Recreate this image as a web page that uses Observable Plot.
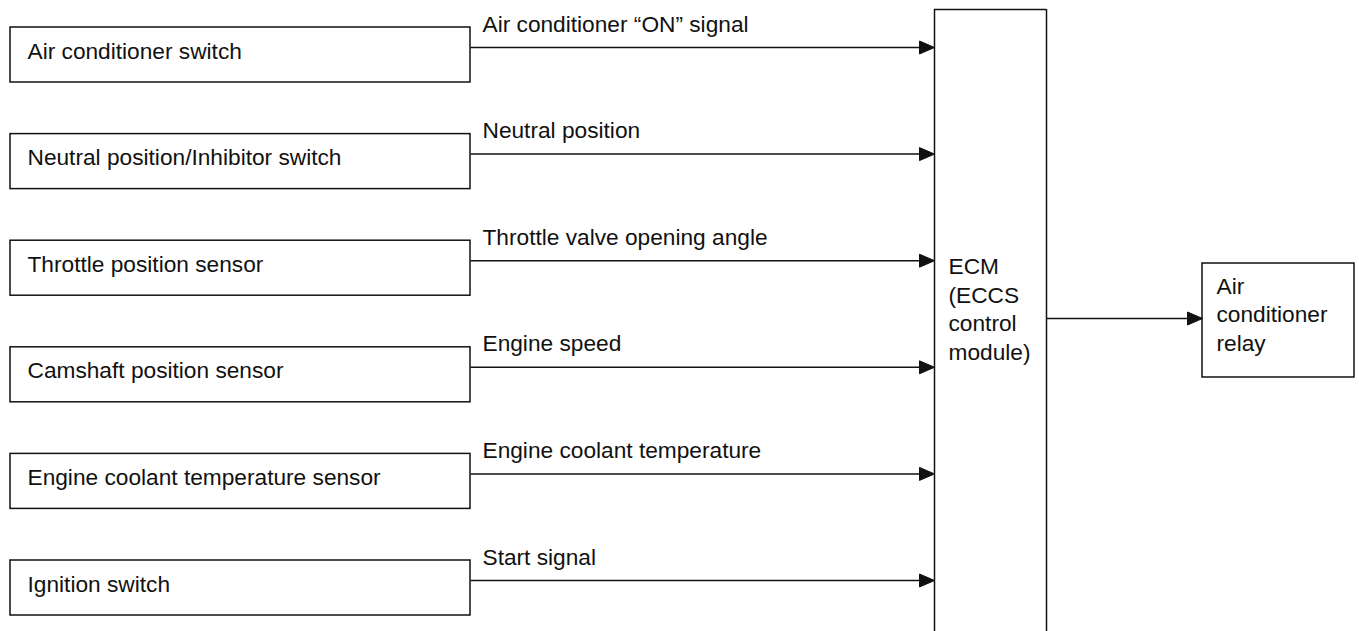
<!DOCTYPE html>
<html>
<head>
<meta charset="utf-8">
<script src="https://cdn.jsdelivr.net/npm/d3@7"></script>
<script src="https://cdn.jsdelivr.net/npm/@observablehq/plot@0.6"></script>
<style>
  html, body { margin: 0; padding: 0; background: #fff; overflow: hidden; }
</style>
</head>
<body>
<div id="chart"></div>
<script>
// ---- Data ----
const inputs = [
  "Air conditioner switch",
  "Neutral position/Inhibitor switch",
  "Throttle position sensor",
  "Camshaft position sensor",
  "Engine coolant temperature sensor",
  "Ignition switch"
];
const signals = [
  "Air conditioner “ON” signal",
  "Neutral position",
  "Throttle valve opening angle",
  "Engine speed",
  "Engine coolant temperature",
  "Start signal"
];
const controllerLines = ["ECM", "(ECCS", "control", "module)"];
const outputLines = ["Air", "conditioner", "relay"];

// ---- Layout ----
const W = 1359, H = 631;
const FS = 22.7;
const ink = "#111";
const font = "'Liberation Sans', Arial, Helvetica, sans-serif";
const rowTop0 = 27, rowStep = 106.6, boxH = 55;
const inX1 = 10, inX2 = 470;
const ecmX1 = 934, ecmX2 = 1046, ecmTop = 9;
const relX1 = 1202, relX2 = 1354, relY1 = 263, relY2 = 377, relArrowY = 318;
const headLen = 15, headHalf = 6.5;

const rows = inputs.map((name, i) => {
  const top = rowTop0 + i * rowStep;
  return {name, signal: signals[i], top, ay: top + 20};
});

const arrows = rows.map(r => ({x1: inX2, x2: ecmX1, y: r.ay}));
arrows.push({x1: ecmX2, x2: relX1, y: relArrowY});

const heads = [];
arrows.forEach((a, i) => {
  heads.push({x: a.x2, y: a.y, z: i});
  heads.push({x: a.x2 - headLen, y: a.y - headHalf, z: i});
  heads.push({x: a.x2 - headLen, y: a.y + headHalf, z: i});
  heads.push({x: a.x2, y: a.y, z: i});
});

const lh = 28.5 / FS;

const chart = Plot.plot({
  width: W,
  height: H,
  margin: 0,
  x: {domain: [0, W], range: [0, W], axis: null},
  y: {domain: [0, H], range: [0, H], axis: null},
  style: {background: "#fff", fontFamily: font, color: ink, overflow: "hidden"},
  marks: [
    // input boxes
    Plot.rect(rows, {x1: () => inX1, x2: () => inX2, y1: d => d.top, y2: d => d.top + boxH,
      fill: "#fff", stroke: ink, strokeWidth: 1.5}),
    Plot.text(rows, {x: () => inX1 + 17, y: d => d.top + 31, text: "name",
      textAnchor: "start", lineAnchor: "bottom", fontSize: FS, fill: ink}),
    // signal labels
    Plot.text(rows, {x: () => inX2 + 12, y: d => d.top + 4, text: "signal",
      textAnchor: "start", lineAnchor: "bottom", fontSize: FS, fill: ink}),
    // arrow shafts
    Plot.link(arrows, {x1: "x1", x2: d => d.x2 - headLen + 1, y1: "y", y2: "y",
      stroke: ink, strokeWidth: 1.5}),
    // arrow heads
    Plot.line(heads, {x: "x", y: "y", z: "z", fill: ink, stroke: ink, strokeWidth: 1, curve: "linear"}),
    // ECM box (open at bottom)
    Plot.ruleX([ecmX1, ecmX2], {x: d => d, y1: () => ecmTop, y2: () => H, stroke: ink, strokeWidth: 1.5}),
    Plot.ruleY([ecmTop], {y: d => d, x1: () => ecmX1, x2: () => ecmX2, stroke: ink, strokeWidth: 1.5}),
    Plot.text([controllerLines.join("\n")], {x: () => ecmX1 + 14, y: () => 359, text: d => d,
      textAnchor: "start", lineAnchor: "bottom", lineHeight: lh, fontSize: FS, fill: ink}),
    // relay box
    Plot.rect([0], {x1: () => relX1, x2: () => relX2, y1: () => relY1, y2: () => relY2,
      fill: "none", stroke: ink, strokeWidth: 1.5}),
    Plot.text([outputLines.join("\n")], {x: () => relX1 + 14, y: () => 350, text: d => d,
      textAnchor: "start", lineAnchor: "bottom", lineHeight: lh, fontSize: FS, fill: ink})
  ]
});

document.getElementById("chart").appendChild(chart);
</script>
</body>
</html>
